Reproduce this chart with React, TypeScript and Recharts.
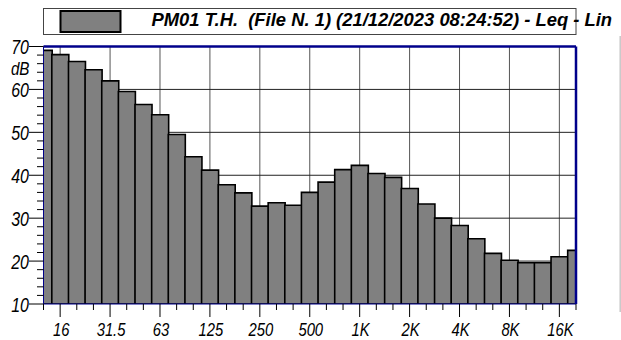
import React from 'react';
import { BarChart, Bar, XAxis, YAxis, CartesianGrid, ReferenceLine } from 'recharts';

// 1/3 octave bands, 12.5 Hz .. 20 kHz
const bands = [
  '12.5', '16', '20', '25', '31.5', '40', '50', '63', '80', '100', '125', '160', '200', '250', '315', '400', '500',
  '630', '800', '1K', '1.25K', '1.6K', '2K', '2.5K', '3.15K', '4K', '5K', '6.3K', '8K', '10K', '12.5K', '16K', '20K',
];
const leq = [
  69.1, 68.1, 66.5, 64.6, 62.0, 59.5, 56.5, 54.1, 49.5, 44.3, 41.2, 37.8, 35.9, 32.8, 33.6, 33.0, 36.0,
  38.4, 41.3, 42.3, 40.4, 39.5, 36.9, 33.3, 30.0, 28.3, 25.2, 21.8, 20.2, 19.6, 19.6, 21.0, 22.5,
];
const xLabels = ['16', '31.5', '63', '125', '250', '500', '1K', '2K', '4K', '8K', '16K'];
const yLabels = [10, 20, 30, 40, 50, 60, 70];
const yMinor = [10, 12, 14, 16, 18, 20, 22, 24, 26, 28, 30, 32, 34, 36, 38, 40, 42, 44, 46, 48, 50, 52, 54, 56, 58, 60, 62, 64, 65, 66, 68, 70];
const seriesName = 'PM01 T.H.  (File N. 1) (21/12/2023 08:24:52) - Leq - Lin';

const rows = bands.map((b, i) => ({ idx: i, band: b, db: leq[i] }));
const allIdx = bands.map((_, i) => i);
const majorIdx = xLabels.map((l) => bands.indexOf(l));

const BLUE = '#00008b';
const SANS = "'Liberation Sans', Arial, sans-serif";
const PLOT_LEFT = 43.5;
const PLOT_BOTTOM = 304;
const NARROW = 0.8; // axis labels use a condensed face

const AxisText = ({ x, y, anchor, size, children }: any) => (
  <text
    transform={`translate(${x},${y}) scale(${NARROW},1)`}
    textAnchor={anchor}
    fontFamily={SANS}
    fontSize={size}
    fill="#000"
    style={{ fontStyle: 'italic' }}
  >
    {children}
  </text>
);

const XTick = (props: any) => {
  const { x, payload } = props;
  const i = payload.value;
  const major = majorIdx.includes(i);
  return (
    <g>
      <line x1={x} x2={x} y1={PLOT_BOTTOM} y2={PLOT_BOTTOM + (major ? 13 : 6)} stroke="#000" strokeWidth={1} />
      {major && (
        <AxisText x={x + 1} y={335.5} anchor="middle" size={18.5}>
          {bands[i]}
        </AxisText>
      )}
    </g>
  );
};

const YTick = (props: any) => {
  const { y, payload } = props;
  const v = payload.value;
  if (v === 65) {
    return (
      <AxisText x={29.5} y={y + 7.5} anchor="end" size={19}>
        dB
      </AxisText>
    );
  }
  const major = yLabels.includes(v);
  return (
    <g>
      <line x1={PLOT_LEFT - (major ? 14.5 : 6.5)} x2={PLOT_LEFT} y1={y} y2={y} stroke="#000" strokeWidth={1} />
      {major && (
        <AxisText x={29} y={y + 7.5} anchor="end" size={20}>
          {v}
        </AxisText>
      )}
    </g>
  );
};

export default function App() {
  return (
    <div style={{ position: 'absolute', left: 0, top: 0, width: 621, height: 340, background: '#fff' }}>
      <BarChart
        width={621}
        height={340}
        data={rows}
        margin={{ top: 46.5, right: 45, left: 0, bottom: 0 }}
        barCategoryGap={0}
        barGap={0}
      >
        <CartesianGrid horizontal={false} verticalValues={majorIdx} stroke="#555" strokeWidth={1} />
        <CartesianGrid vertical={false} horizontalValues={[20, 30, 40, 50, 60]} stroke="#222" strokeWidth={1} />
        <XAxis
          dataKey="idx"
          type="number"
          domain={[0, bands.length - 1]}
          allowDataOverflow
          ticks={allIdx}
          interval={0}
          height={36}
          tickLine={false}
          axisLine={{ stroke: BLUE, strokeWidth: 1 }}
          tick={<XTick />}
        />
        <YAxis
          type="number"
          domain={[10, 70]}
          allowDataOverflow
          ticks={yMinor}
          interval={0}
          width={PLOT_LEFT}
          tickLine={false}
          axisLine={{ stroke: BLUE, strokeWidth: 1 }}
          tick={<YTick />}
        />
        <Bar dataKey="db" name={seriesName} fill="#808080" stroke="#000" strokeWidth={1.6} isAnimationActive={false} />
        <ReferenceLine y={70} stroke={BLUE} strokeWidth={2.5} />
        <ReferenceLine x={bands.length - 1} stroke={BLUE} strokeWidth={2.5} />
      </BarChart>
      <svg width={621} height={340} style={{ position: 'absolute', left: 0, top: 0, pointerEvents: 'none' }}>
        <rect x={43.5} y={8.5} width={532.5} height={26} fill="none" stroke="#444" strokeWidth={1} />
        <rect x={60.5} y={11} width={60} height={21} fill="#808080" stroke="#000" strokeWidth={2} />
        <text
          x={151.5}
          y={26}
          fontFamily={SANS}
          fontWeight="bold"
          fontSize={18.4}
          fill="#000"
          style={{ whiteSpace: 'pre', fontStyle: 'italic' }}
        >
          {seriesName}
        </text>
        <line x1={620.2} x2={620.2} y1={36} y2={312} stroke="#c8c8c8" strokeWidth={1.5} />
      </svg>
    </div>
  );
}
